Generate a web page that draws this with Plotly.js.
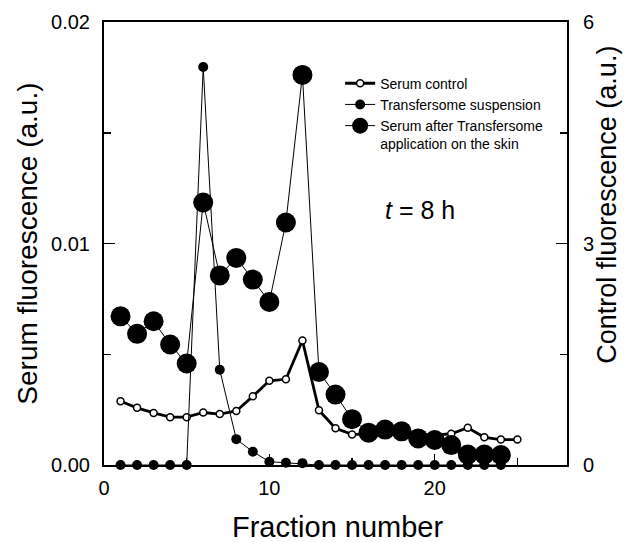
<!DOCTYPE html>
<html>
<head>
<meta charset="utf-8">
<script src="https://cdn.plot.ly/plotly-3.0.1.min.js"></script>
<style>html,body{margin:0;padding:0;background:#fff;}#chart{width:632px;height:542px;}</style>
</head>
<body>
<div id="chart"></div>
<script>
// Fraction numbers
var fractions = [1,2,3,4,5,6,7,8,9,10,11,12,13,14,15,16,17,18,19,20,21,22,23,24,25];
var fractionsT = [1,2,3,4,5,6,7,8,9,10,11,12,13,14,15,16,17,18,19,20,21,22,23,24];

// Serum control (left axis, serum fluorescence a.u.)
var serumControl = [0.00288,0.00258,0.00235,0.00216,0.00216,0.00237,0.00230,0.00244,0.00310,0.00380,0.00387,0.00562,0.00247,0.00166,0.00138,0.00140,0.00140,0.00140,0.00138,0.00135,0.00141,0.00168,0.00125,0.00115,0.00115];

// Transfersome suspension (right axis, control fluorescence a.u.)
var transfersome = [0,0,0,0,0,5.39,1.29,0.35,0.18,0.045,0.03,0.025,0,0,0,0,0,0,0,0,0,0,0,0];

// Serum after Transfersome application on the skin (left axis, serum fluorescence a.u.)
var serumAfter = [0.00671,0.00592,0.00649,0.00544,0.00458,0.01185,0.00856,0.00935,0.00837,0.00736,0.01095,0.01761,0.0042,0.00318,0.00207,0.00146,0.00160,0.00152,0.00120,0.00113,0.00090,0.00047,0.00047,0.00045];

// Tick labels
var leftTickVals = [0, 0.01, 0.02];
var leftTickText = ['0.00', '0.01', '0.02'];
var rightTickVals = [0, 3, 6];
var xTickVals = [0, 10, 20];

var traces = [
  {
    x: fractions, y: serumControl, yaxis: 'y', type: 'scatter', mode: 'lines+markers',
    name: 'Serum control', cliponaxis: false,
    line: {color: '#000', width: 2.8},
    marker: {symbol: 'circle', size: 7, color: '#fff', line: {color: '#000', width: 1.5}}
  },
  {
    x: fractionsT, y: transfersome, yaxis: 'y2', type: 'scatter', mode: 'lines+markers',
    name: 'Transfersome suspension', cliponaxis: false,
    line: {color: '#000', width: 1},
    marker: {symbol: 'circle', size: 10, color: '#000'}
  },
  {
    x: fractionsT, y: serumAfter, yaxis: 'y', type: 'scatter', mode: 'lines+markers',
    name: 'Serum after Transfersome<br>application on the skin', cliponaxis: false,
    line: {color: '#000', width: 1},
    marker: {symbol: 'circle', size: 20, color: '#000'}
  }
];

var axisFont = {family: 'Liberation Sans, Arial, sans-serif', size: 20, color: '#000'};
var fam = 'Liberation Sans, Arial, sans-serif';

var layout = {
  width: 632, height: 542,
  margin: {l: 104, r: 65, t: 22, b: 77},
  paper_bgcolor: '#fff', plot_bgcolor: '#fff',
  showlegend: true,
  legend: {
    x: 0.51, y: 0.897, xanchor: 'left', yanchor: 'top',
    bgcolor: 'rgba(0,0,0,0)', borderwidth: 0,
    font: {family: fam, size: 14, color: '#000'},
    valign: 'top', tracegroupgap: 0
  },
  xaxis: {
    range: [0, 28], tickvals: xTickVals, ticks: 'inside', ticklen: 11, tickwidth: 1.5, tickcolor: '#000',
    minor: {tickvals: [5, 15, 25], ticks: 'inside', ticklen: 7, tickwidth: 1.5, tickcolor: '#000'},
    showline: true, linecolor: '#000', linewidth: 2, mirror: true,
    showgrid: false, zeroline: false, tickfont: axisFont, ticklabelstandoff: 4
  },
  yaxis: {
    range: [0, 0.02], tickvals: leftTickVals, ticktext: leftTickText,
    ticks: 'inside', ticklen: 11, tickwidth: 1.5, tickcolor: '#000',
    minor: {tickvals: [0.005, 0.015], ticks: 'inside', ticklen: 7, tickwidth: 1.5, tickcolor: '#000'},
    showline: true, linecolor: '#000', linewidth: 2,
    showgrid: false, zeroline: false, tickfont: axisFont, ticklabelstandoff: 8
  },
  yaxis2: {
    range: [0, 6], tickvals: rightTickVals, overlaying: 'y', side: 'right',
    ticks: 'inside', ticklen: 11, tickwidth: 1.5, tickcolor: '#000',
    minor: {tickvals: [1.5, 4.5], ticks: 'inside', ticklen: 7, tickwidth: 1.5, tickcolor: '#000'},
    showline: true, linecolor: '#000', linewidth: 2,
    showgrid: false, zeroline: false, tickfont: axisFont, ticklabelstandoff: 10
  },
  annotations: [
    {xref: 'paper', yref: 'paper', x: -0.166, y: 0.5, xanchor: 'center', yanchor: 'middle',
     text: 'Serum fluorescence (a.u.)', textangle: -90, showarrow: false, font: {family: fam, size: 28, color: '#000'}},
    {xref: 'paper', yref: 'paper', x: 1.086, y: 0.587, xanchor: 'center', yanchor: 'middle',
     text: 'Control fluorescence (a.u.)', textangle: -90, showarrow: false, font: {family: fam, size: 27, color: '#000'}},
    {xref: 'paper', yref: 'paper', x: 0.504, y: -0.14, xanchor: 'center', yanchor: 'middle',
     text: 'Fraction number', showarrow: false, font: {family: fam, size: 29, color: '#000'}},
    {xref: 'x', yref: 'y', x: 19.1, y: 0.0115, xanchor: 'center', yanchor: 'middle',
     text: '<i>t</i> = 8 h', showarrow: false, font: {family: fam, size: 25, color: '#000'}}
  ],
  hovermode: false
};

Plotly.newPlot('chart', traces, layout, {displayModeBar: false, staticPlot: true});
</script>
</body>
</html>
